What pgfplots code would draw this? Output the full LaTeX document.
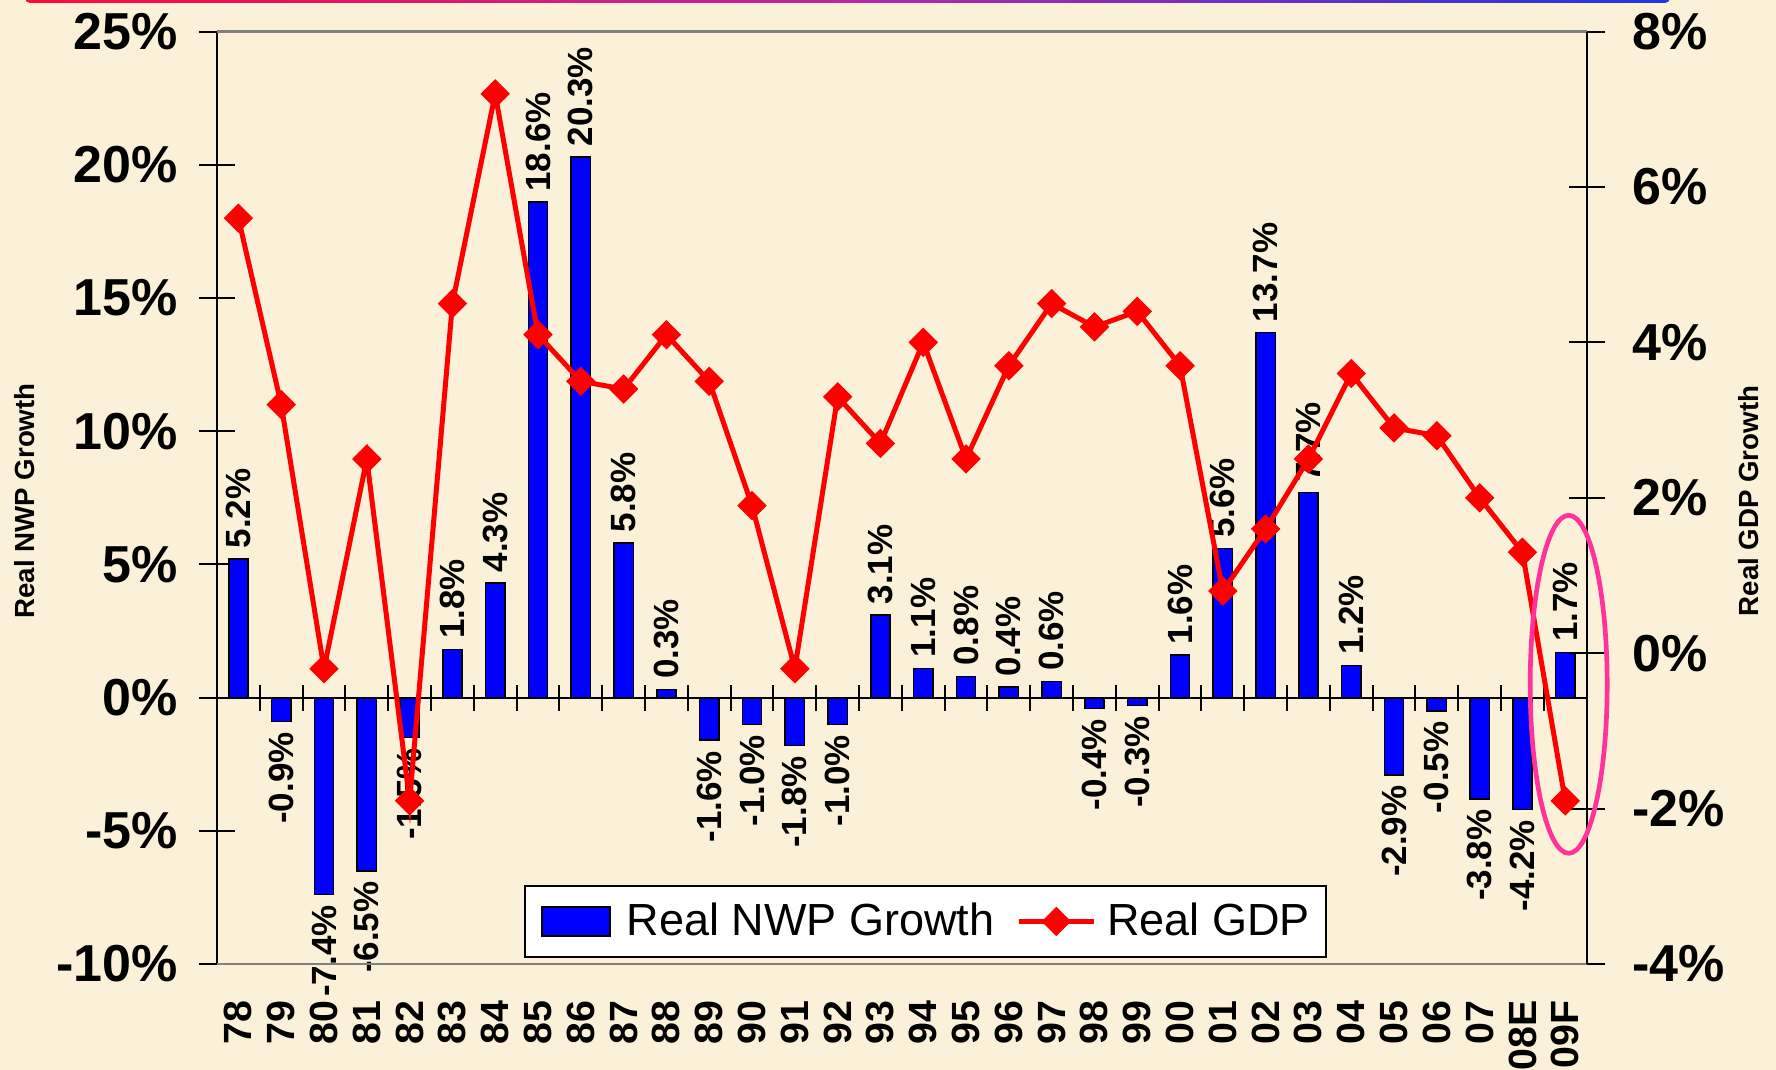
\documentclass[border=0pt]{standalone}
\usepackage{pgfplots}
\usepackage{pgfplotstable}
\pgfplotsset{compat=1.18}
\usepackage{fontspec}
\setmainfont{Liberation Sans}
\definecolor{bgbeige}{RGB}{250,241,216}
\definecolor{nwpblue}{RGB}{0,0,255}
\definecolor{gdpred}{RGB}{255,0,0}
\definecolor{ringpink}{RGB}{255,51,153}
\definecolor{axgray}{RGB}{128,128,128}
\definecolor{barL}{RGB}{255,10,60}
\definecolor{barM}{RGB}{185,40,165}
\definecolor{barR}{RGB}{30,55,225}

\pgfplotstableread{
idx nwp gdp
0 5.2 5.6
1 -0.9 3.2
2 -7.4 -0.2
3 -6.5 2.5
4 -1.5 -1.9
5 1.8 4.5
6 4.3 7.2
7 18.6 4.1
8 20.3 3.5
9 5.8 3.4
10 0.3 4.1
11 -1.6 3.5
12 -1.0 1.9
13 -1.8 -0.2
14 -1.0 3.3
15 3.1 2.7
16 1.1 4.0
17 0.8 2.5
18 0.4 3.7
19 0.6 4.5
20 -0.4 4.2
21 -0.3 4.4
22 1.6 3.7
23 5.6 0.8
24 13.7 1.6
25 7.7 2.5
26 1.2 3.6
27 -2.9 2.9
28 -0.5 2.8
29 -3.8 2.0
30 -4.2 1.3
31 1.7 -1.9
}\datatab

\pgfplotsset{
  commonax/.style={
    at={(65.1pt,31.8pt)}, anchor=south west,
    scale only axis, width=410.9pt, height=279.7pt,
    xmin=-0.5, xmax=31.5,
  },
  barlabel/.style={ybar, bar width=0.45, draw=none, fill=none,
    point meta=explicit symbolic,
    nodes near coords={\pgfplotspointmeta\%},
    every node near coord/.append style={rotate=90, anchor=#1, inner sep=3pt,
      font=\fontsize{10.5}{11}\selectfont\bfseries, text=black}},
  barleg/.style={legend image code/.code={\draw[##1] (0pt,-4.35pt) rectangle (20.4pt,4.35pt);}},
  lineleg/.style={legend image code/.code={\draw[mark repeat=2, mark phase=2, ##1] plot coordinates {(0pt,0pt) (11.25pt,0pt) (22.5pt,0pt)};}},
}

\begin{document}
\begin{tikzpicture}
\fill[bgbeige] (0,0) rectangle (532.8pt,321pt);
\useasboundingbox (0,0) rectangle (532.8pt,321pt);
\shade[left color=barL, right color=barR, middle color=barM, rounded corners=1.5pt] (7.5pt,320.1pt) rectangle (501pt,326pt);

% bars, left axis
\begin{axis}[commonax,
  ymin=-10, ymax=25,
  axis x line=none, axis y line*=left,
  y axis line style={black, line width=0.6pt},
  ytick={-10,-5,0,5,10,15,20,25},
  yticklabels={-10\%,-5\%,0\%,5\%,10\%,15\%,20\%,25\%},
  tick align=center, major tick length=10.8pt,
  ytick style={black, line width=0.6pt},
  yticklabel style={font=\fontsize{15.6}{16}\selectfont\bfseries, anchor=east, inner sep=0pt},
  yticklabel shift=6.1pt,
  clip=false,
  ylabel={Real NWP Growth},
  every axis y label/.style={at={(axis description cs:-0.1402,0.4966)}, rotate=90, anchor=center, font=\fontsize{8.3}{9}\selectfont\bfseries},
]
\addplot[ybar, bar width=0.45, fill=nwpblue, draw=black, line width=0.45pt]
  table[x=idx, y=nwp]{\datatab};
\addplot[barlabel=west, restrict y to domain=0:30]
  table[x=idx, y=nwp, meta=nwp]{\datatab};
\addplot[barlabel=east, restrict y to domain=-30:0]
  table[x=idx, y=nwp, meta=nwp]{\datatab};
\end{axis}

% zero line with category ticks
\begin{axis}[commonax,
  ymin=-10, ymax=25,
  axis x line*=middle, axis y line=none,
  x axis line style={black, line width=0.6pt},
  xtick={-0.5,0.5,...,31.5}, xticklabels={},
  tick align=center, major tick length=7.8pt,
  xtick style={black, line width=0.6pt},
]
\end{axis}

% GDP line, right axis
\begin{axis}[commonax,
  ymin=-4, ymax=8,
  axis x line*=box, axis y line*=right,
  x axis line style={axgray, line width=0.8pt},
  y axis line style={black, line width=0.6pt},
  xtick={0,...,31},
  xticklabels={78,79,80,81,82,83,84,85,86,87,88,89,90,91,92,93,94,95,96,97,98,99,00,01,02,03,04,05,06,07,08E,09F},
  xtick style={draw=none},
  xticklabel style={rotate=90, anchor=east, inner sep=0pt, font=\fontsize{11.8}{12}\selectfont\bfseries},
  xticklabel shift=5.3pt,
  ytick={-4,-2,0,2,4,6,8},
  yticklabels={-4\%,-2\%,0\%,2\%,4\%,6\%,8\%},
  tick align=center, major tick length=10.8pt,
  ytick style={black, line width=0.6pt},
  yticklabel style={font=\fontsize{15.6}{16}\selectfont\bfseries, anchor=west, inner sep=0pt},
  yticklabel shift=8.2pt,
  clip=false,
  ylabel={Real GDP Growth},
  every axis y label/.style={at={(axis description cs:1.1185,0.4966)}, rotate=90, anchor=center, font=\fontsize{8.3}{9}\selectfont\bfseries},
  legend columns=-1,
  legend style={at={(axis description cs:0.5173,0.0456)}, anchor=center,
    draw=black, line width=0.6pt, fill=white,
    font=\fontsize{13.5}{14}\selectfont,
    inner xsep=4.8pt, inner ysep=5pt,
    nodes={inner sep=0pt, anchor=west},
    /tikz/column 1/.style={column sep=4.8pt},
    /tikz/column 2/.style={column sep=6.6pt},
    /tikz/column 3/.style={column sep=3.3pt}},
]
\addlegendimage{barleg, fill=nwpblue, draw=black, line width=0.45pt}
\addlegendentry{Real NWP Growth}
\addplot[gdpred, line width=1.5pt, mark=square*, mark size=2.97pt,
  mark options={rotate=45, fill=gdpred, draw=gdpred, line width=0.3pt}, lineleg
] table[x=idx, y=gdp]{\datatab};
\addlegendentry{Real GDP}
\draw[ringpink, line width=1.4pt] (axis cs:31.08,-0.40) ellipse [x radius=11.55pt, y radius=50.7pt];
\end{axis}
\end{tikzpicture}
\end{document}
